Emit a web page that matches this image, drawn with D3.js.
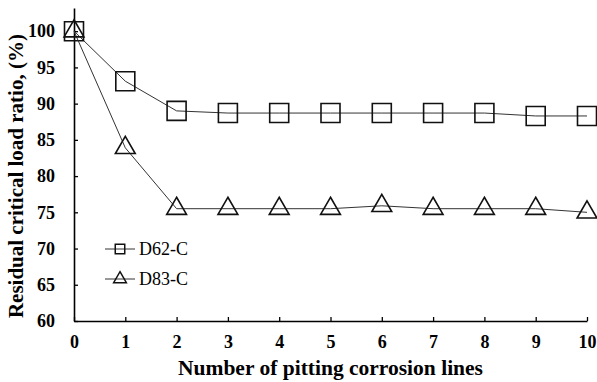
<!DOCTYPE html>
<html>
<head>
<meta charset="utf-8">
<script src="https://cdn.jsdelivr.net/npm/d3@7"></script>
<style>
  body { margin: 0; background: #fff; }
  svg { display: block; }
</style>
</head>
<body>
<div id="chart"></div>
<script>
// data
var lines = [0, 1, 2, 3, 4, 5, 6, 7, 8, 9, 10];
var d62 = [100, 93.1, 89.0, 88.7, 88.7, 88.7, 88.7, 88.7, 88.7, 88.3, 88.3];
var d83 = [100, 83.9, 75.5, 75.5, 75.5, 75.5, 75.9, 75.5, 75.5, 75.5, 75.0];
var seriesNames = ["D62-C", "D83-C"];
var yTicks = [60, 65, 70, 75, 80, 85, 90, 95, 100];

var svgWidth = 597, svgHeight = 382;
var fontFam = "'Liberation Serif', 'Times New Roman', serif";

var svg = d3.select("#chart")
  .append("svg")
  .attr("width", svgWidth)
  .attr("height", svgHeight);

var x = d3.scaleLinear().domain([0, 10]).range([74, 587]);
var y = d3.scaleLinear().domain([60, 103.2]).range([321, 8]);

// axes
var xAxis = svg.append("g")
  .attr("transform", "translate(0," + y(60) + ")")
  .call(d3.axisBottom(x).tickValues(lines).tickSizeInner(-4).tickSizeOuter(0).tickPadding(14));

var yAxis = svg.append("g")
  .attr("transform", "translate(" + x(0) + ",0)")
  .call(d3.axisLeft(y).tickValues(yTicks).tickSizeInner(-4).tickSizeOuter(0).tickPadding(19));

[xAxis, yAxis].forEach(function(a) {
  a.selectAll("path").attr("stroke", "#000").attr("stroke-width", 1.6);
  a.selectAll("line").attr("stroke", "#000").attr("stroke-width", 1.3);
  a.selectAll("text")
    .attr("fill", "#000")
    .style("font-family", fontFam)
    .style("font-weight", "bold")
    .style("font-size", "18px");
});

// axis titles
svg.append("text")
  .attr("x", (x(0) + x(10)) / 2)
  .attr("y", 375)
  .attr("text-anchor", "middle")
  .style("font-family", fontFam)
  .style("font-weight", "bold")
  .style("font-size", "21.5px")
  .text("Number of pitting corrosion lines");

svg.append("text")
  .attr("transform", "translate(22.5," + (y(60) + y(100)) / 2 + ") rotate(-90)")
  .attr("text-anchor", "middle")
  .style("font-family", fontFam)
  .style("font-weight", "bold")
  .style("font-size", "21px")
  .text("Residual critical load ratio, (%)");

var line = d3.line()
  .x(function(d, i) { return x(lines[i]); })
  .y(function(d) { return y(d); });

var square = d3.symbol().type(d3.symbolSquare).size(19 * 19);
var triangle = d3.symbol().type(d3.symbolTriangle).size(170);

var series = [
  { name: seriesNames[0], values: d62, symbol: square },
  { name: seriesNames[1], values: d83, symbol: triangle }
];

series.forEach(function(s) {
  svg.append("path")
    .datum(s.values)
    .attr("d", line)
    .attr("fill", "none")
    .attr("stroke", "#333")
    .attr("stroke-width", 1);

  svg.selectAll(null)
    .data(s.values)
    .enter()
    .append("path")
    .attr("d", s.symbol)
    .attr("transform", function(d, i) { return "translate(" + x(lines[i]) + "," + y(d) + ")"; })
    .attr("fill", "none")
    .attr("stroke", "#111")
    .attr("stroke-width", 1.6);
});

// legend
var smallSquare = d3.symbol().type(d3.symbolSquare).size(90);
var smallTriangle = d3.symbol().type(d3.symbolTriangle).size(70);
var legendY = [249, 279];
[smallSquare, smallTriangle].forEach(function(sym, i) {
  var g = svg.append("g").attr("transform", "translate(0," + legendY[i] + ")");
  g.append("line")
    .attr("x1", 105).attr("x2", 135)
    .attr("stroke", "#333").attr("stroke-width", 1);
  g.append("path")
    .attr("d", sym)
    .attr("transform", "translate(120,0)")
    .attr("fill", "none")
    .attr("stroke", "#111")
    .attr("stroke-width", 1.5);
  g.append("text")
    .attr("x", 139)
    .attr("dy", "0.35em")
    .style("font-family", fontFam)
    .style("font-size", "18px")
    .text(seriesNames[i]);
});
</script>
</body>
</html>
